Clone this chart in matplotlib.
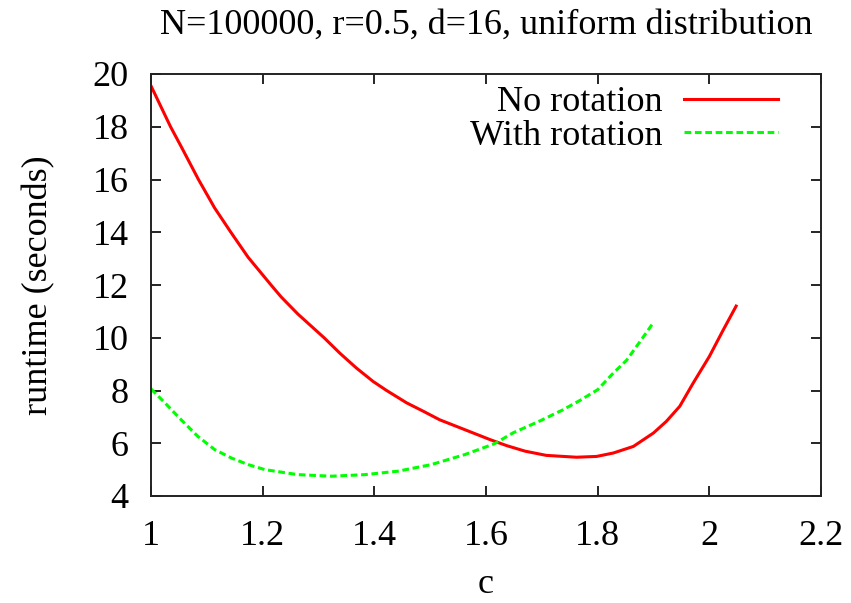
import numpy as np
import matplotlib
matplotlib.use("Agg")
import matplotlib.pyplot as plt

# values
c_no_rot = [1.0, 1.035, 1.054, 1.085, 1.114, 1.143, 1.174, 1.215, 1.233,
            1.263, 1.31, 1.338, 1.368, 1.398, 1.422, 1.458, 1.488, 1.517,
            1.547, 1.577, 1.607, 1.637, 1.67, 1.708, 1.762, 1.798, 1.828,
            1.864, 1.9, 1.923, 1.947, 1.971, 2.0, 2.025, 2.048]
t_no_rot = [19.55, 18.0, 17.25, 16.0, 14.92, 14.0, 13.05, 12.0, 11.55,
            10.9, 10.0, 9.42, 8.85, 8.34, 8.0, 7.53, 7.21, 6.89,
            6.64, 6.39, 6.14, 5.91, 5.7, 5.54, 5.47, 5.5, 5.63,
            5.88, 6.39, 6.83, 7.4, 8.28, 9.29, 10.3, 11.2]

c_rot = [1.0, 1.025, 1.054, 1.084, 1.114, 1.144, 1.174, 1.204, 1.263, 1.323,
         1.383, 1.442, 1.502, 1.562, 1.615, 1.649, 1.697, 1.738, 1.768, 1.8,
         1.828, 1.852, 1.876, 1.9]
t_rot = [8.06, 7.53, 6.89, 6.26, 5.76, 5.44, 5.19, 5.0, 4.81, 4.75,
         4.81, 4.94, 5.19, 5.57, 5.98, 6.4, 6.85, 7.27, 7.62, 8.03,
         8.66, 9.15, 9.86, 10.58]

x_ticks = [1, 1.2, 1.4, 1.6, 1.8, 2, 2.2]
x_labels = ["1", "1.2", "1.4", "1.6", "1.8", "2", "2.2"]
y_ticks = [4, 6, 8, 10, 12, 14, 16, 18, 20]

plt.rcParams["font.family"] = ["Liberation Serif", "DejaVu Serif"]
fs = 26

fig = plt.figure(figsize=(8.51, 6.03), dpi=100)
ax = fig.add_axes([151 / 851, 1 - 496 / 603, 670 / 851, 422 / 603])

ax.plot(c_no_rot, t_no_rot, color="#ff0000", lw=2.2, label="No rotation")
ax.plot(c_rot, t_rot, color="#00ff00", lw=2.2, dashes=(2.2, 1.2),
        label="With rotation")

ax.set_xlim(1, 2.2)
ax.set_ylim(4, 20)
ax.set_xticks(x_ticks)
ax.set_xticklabels(x_labels)
ax.set_yticks(y_ticks)
ax.tick_params(direction="in", top=True, right=True, length=7, width=1.2,
               labelsize=fs)
ax.tick_params(axis="x", pad=17)
ax.tick_params(axis="y", pad=16)
for s in ax.spines.values():
    s.set_linewidth(1.4)
    s.set_color("#222222")

ax.set_title("N=100000, r=0.5, d=16, uniform distribution", fontsize=fs, pad=29)
ax.set_xlabel("c", fontsize=fs, labelpad=11)
ax.set_ylabel("runtime (seconds)", fontsize=fs, labelpad=27)

leg = ax.legend(loc="upper right", bbox_to_anchor=(778 / 851, 1 - 86 / 603),
                bbox_transform=fig.transFigure, frameon=False,
                markerfirst=False, handlelength=2.6, handletextpad=0.6,
                labelspacing=0.0, borderaxespad=0, borderpad=0, fontsize=fs)
for t in leg.get_texts():
    t.set_ha("right")
leg._legend_box.align = "right"

fig.savefig("out.png", dpi=100)
